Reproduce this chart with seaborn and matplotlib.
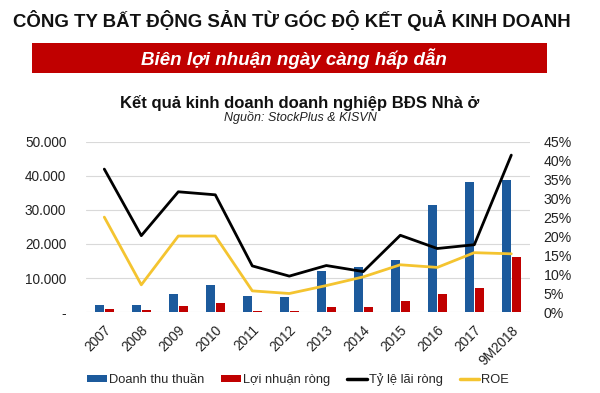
import numpy as np
import pandas as pd
import matplotlib
matplotlib.use("Agg")
import matplotlib.pyplot as plt
import seaborn as sns
from matplotlib.lines import Line2D
from matplotlib.patches import Patch, Rectangle

years = ["2007", "2008", "2009", "2010", "2011", "2012", "2013", "2014",
         "2015", "2016", "2017", "9M2018"]
revenue = [2050, 2000, 5200, 7900, 4700, 4300, 12150, 13200, 15200, 31400, 38150, 38800]
net_profit = [900, 600, 1700, 2600, 400, 200, 1500, 1500, 3200, 5400, 7000, 16100]
net_margin = [0.378, 0.202, 0.318, 0.310, 0.122, 0.095, 0.123, 0.107, 0.203, 0.168, 0.178, 0.415]
roe = [0.251, 0.072, 0.201, 0.201, 0.056, 0.049, 0.070, 0.093, 0.125, 0.118, 0.157, 0.154]

series_names = ["Doanh thu thuần", "Lợi nhuận ròng", "Tỷ lệ lãi ròng", "ROE"]
left_ticks = [0, 10000, 20000, 30000, 40000, 50000]
left_labels = ["-", "10.000", "20.000", "30.000", "40.000", "50.000"]
right_ticks = [0, 0.05, 0.10, 0.15, 0.20, 0.25, 0.30, 0.35, 0.40, 0.45]
right_labels = ["0%", "5%", "10%", "15%", "20%", "25%", "30%", "35%", "40%", "45%"]

header = "CÔNG TY BẤT ĐỘNG SẢN TỪ GÓC ĐỘ KẾT QuẢ KINH DOANH"
banner = "Biên lợi nhuận ngày càng hấp dẫn"
chart_title = "Kết quả kinh doanh doanh nghiệp BĐS Nhà ở"
source = "Nguồn: StockPlus & KISVN"

BLUE = "#1C5A9C"
RED = "#C00000"
BLACK = "#000000"
YELLOW = "#F4C430"

sns.set_theme(style="white")
plt.rcParams["font.family"] = ["Liberation Sans", "DejaVu Sans"]

df = pd.DataFrame({
    "year": years * 2,
    "value": revenue + net_profit,
    "series": [series_names[0]] * len(years) + [series_names[1]] * len(years),
})

fig = plt.figure(figsize=(6.0, 3.93), dpi=100)
fig.patch.set_facecolor("white")
ax = fig.add_axes([0.143, 0.206, 0.74, 0.433])

sns.barplot(data=df, x="year", y="value", hue="series", order=years,
            palette=[BLUE, RED], width=0.54, gap=0.08, ax=ax, legend=False,
            saturation=1, linewidth=0)
ax.set_ylim(0, 50000)
ax.set_xlim(-0.5, len(years) - 0.5)
ax.set_yticks(left_ticks)
ax.set_yticklabels(left_labels, fontsize=9.8, color="#222222")
ax.yaxis.grid(True, color="#d9d9d9", linewidth=0.8)
ax.set_axisbelow(True)
for s in ax.spines.values():
    s.set_visible(False)
ax.tick_params(axis="y", length=0, pad=14)
ax.tick_params(axis="x", length=0, pad=8)
ax.set_xticks(range(len(years)))
ax.set_xticklabels(years, rotation=45, ha="right", rotation_mode="anchor",
                   fontsize=9.8, color="#222222")
ax.set_xlabel("")
ax.set_ylabel("")

ax2 = ax.twinx()
xpos = np.arange(len(years))
sns.lineplot(x=xpos, y=net_margin, color=BLACK, linewidth=2, ax=ax2)
sns.lineplot(x=xpos, y=roe, color=YELLOW, linewidth=2, ax=ax2)
ax2.set_ylim(0, 0.45)
ax2.set_xlim(-0.5, len(years) - 0.5)
ax2.set_yticks(right_ticks)
ax2.set_yticklabels(right_labels, fontsize=10.2, color="#222222")
ax2.tick_params(axis="y", length=0, pad=10)
for s in ax2.spines.values():
    s.set_visible(False)
ax2.grid(False)
ax2.set_ylabel("")

# Header and banner
fig.text(0.021, 0.949, header, fontsize=13.4, fontweight="bold", color="#111111",
         va="center", ha="left")
fig.patches.append(Rectangle((0.053, 0.814), 0.858, 0.077, transform=fig.transFigure,
                             facecolor="#C00000", edgecolor="none"))
fig.text(0.49, 0.852, banner, fontsize=13.5, fontweight="bold", style="italic",
         color="white", ha="center", va="center")
fig.text(0.499, 0.738, chart_title, fontsize=12, fontweight="bold", color="#111111",
         ha="center", va="center")
fig.text(0.501, 0.700, source, fontsize=9, style="italic", color="#222222",
         ha="center", va="center")

handles = [Patch(facecolor=BLUE, edgecolor="none"),
           Patch(facecolor=RED, edgecolor="none"),
           Line2D([0], [0], color=BLACK, linewidth=2.5),
           Line2D([0], [0], color=YELLOW, linewidth=2.5)]
fig.legend(handles, series_names, loc="center", bbox_to_anchor=(0.497, 0.033),
           ncol=4, frameon=False, fontsize=9.3, handlelength=1.5,
           handleheight=0.45, handletextpad=0.15, columnspacing=1.35)

fig.savefig("out.png", dpi=100)
